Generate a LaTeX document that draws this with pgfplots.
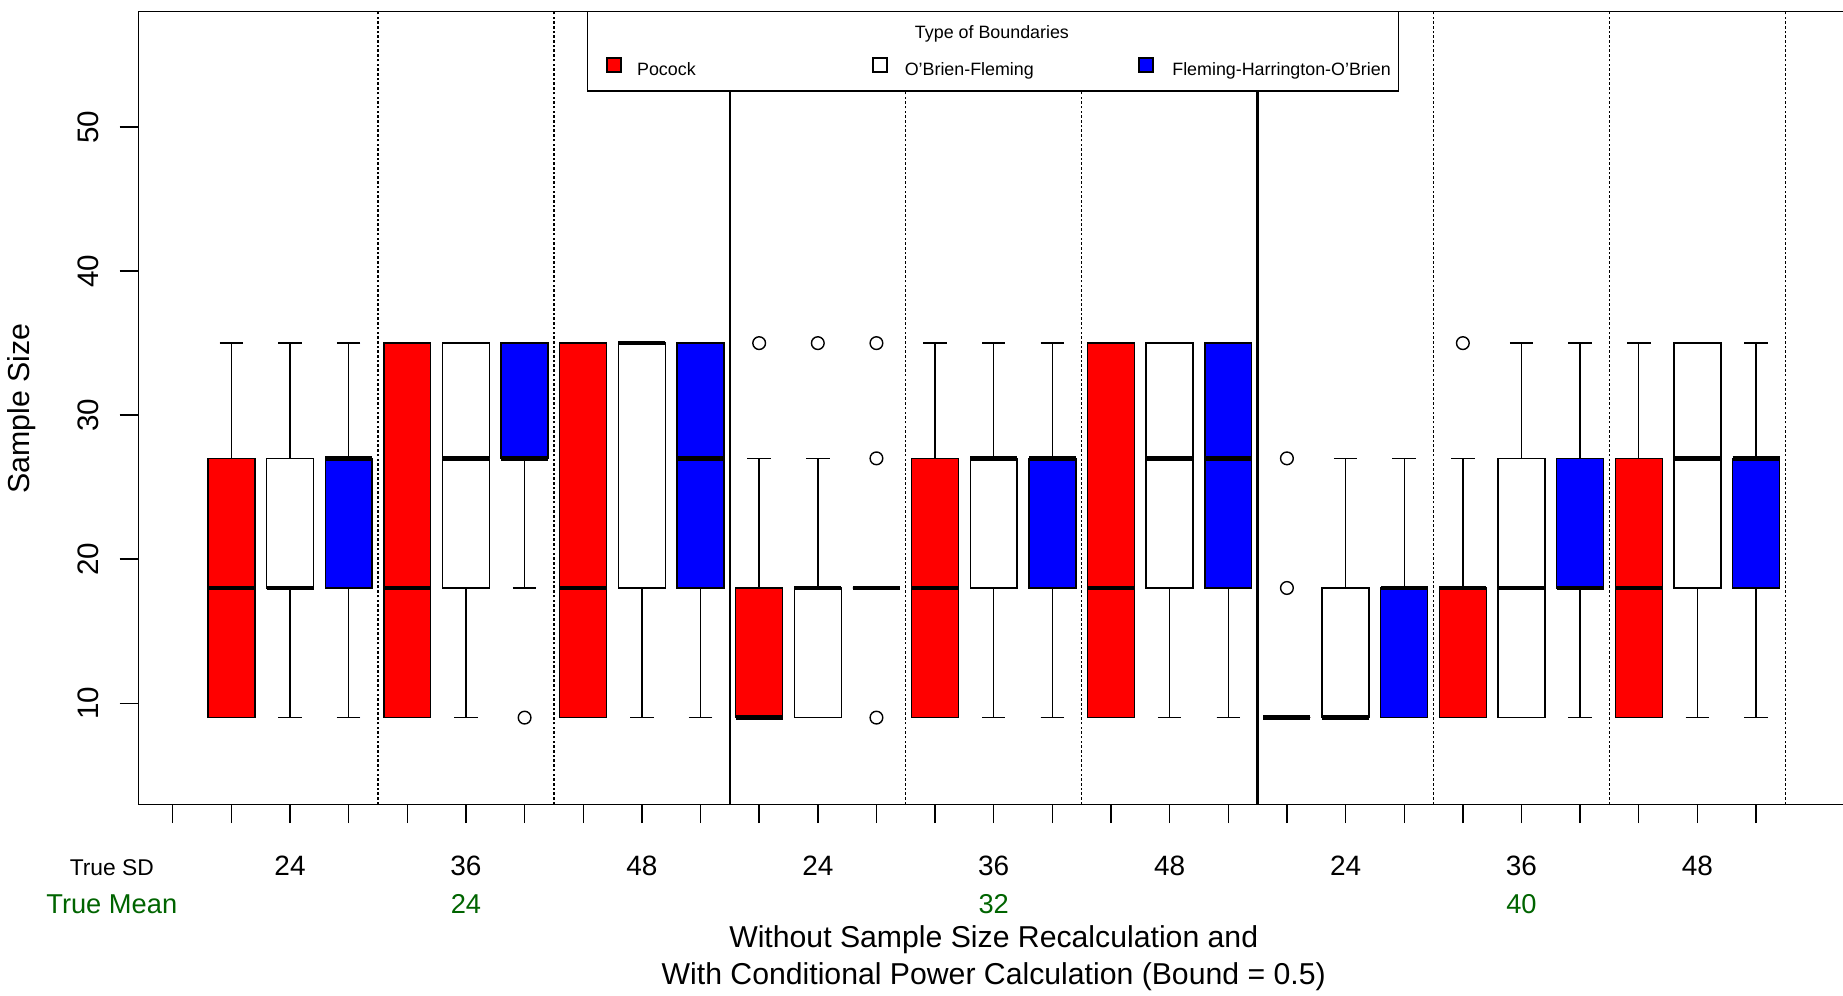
\documentclass[border=0pt]{standalone}
\usepackage{pgfplots}
\pgfplotsset{compat=1.18}
\usepgfplotslibrary{statistics}
\usetikzlibrary{calc}
\usepackage{fontspec}
\setmainfont{Liberation Sans}
\definecolor{rgreen}{RGB}{0,100,0}
\newcommand{\fs}[1]{\fontsize{#1}{#1}\selectfont}
\pgfplotsset{
  rbox/.style={draw=black, line width=0.6pt, mark=o, mark size=2.7pt,
    mark options={solid, line width=0.6pt, draw=black, fill=none},
    boxplot/draw direction=y,
    boxplot/box extend=0.8, boxplot/whisker extend=0.4,
    boxplot/every median/.style={line width=2pt}},
  dsep/.style={black, line width=0.5pt, dash pattern=on 1.1pt off 0.9pt, mark=none},
  ssep/.style={black, line width=1.1pt, mark=none},
}
\begin{document}
\begin{tikzpicture}
\useasboundingbox (0,0) rectangle (784pt,423.5pt);
\begin{axis}[
  at={(58.85pt,81.35pt)}, anchor=south west,
  scale only axis, width=725.15pt, height=337.35pt,
  xmin=-0.587, xmax=28.483, ymin=2.98, ymax=58.04,
  axis x line=bottom, axis y line=left,
  axis line style={-, line width=0.6pt},
  xtick={0,...,27}, ytick={10,20,30,40,50},
  xticklabels={}, yticklabels={},
  tick align=outside, major tick length=8pt,
  tick style={black, line width=0.6pt},
  clip=false,
]
% group separators
\addplot[dsep] coordinates {(3.5,2.98) (3.5,58.04)};
\addplot[dsep] coordinates {(6.5,2.98) (6.5,58.04)};
\addplot[ssep] coordinates {(9.5,2.98) (9.5,58.04)};
\addplot[dsep] coordinates {(12.5,2.98) (12.5,58.04)};
\addplot[dsep] coordinates {(15.5,2.98) (15.5,58.04)};
\addplot[ssep] coordinates {(18.5,2.98) (18.5,58.04)};
\addplot[dsep] coordinates {(21.5,2.98) (21.5,58.04)};
\addplot[dsep] coordinates {(24.5,2.98) (24.5,58.04)};
\addplot[dsep] coordinates {(27.5,2.98) (27.5,58.04)};

% True mean 24
\addplot[rbox, fill=red, boxplot prepared={draw position=1, lower whisker=9, lower quartile=9, median=18, upper quartile=27, upper whisker=35}] coordinates {};
\addplot[rbox, fill=white, boxplot prepared={draw position=2, lower whisker=9, lower quartile=18, median=18, upper quartile=27, upper whisker=35}] coordinates {};
\addplot[rbox, fill=blue, boxplot prepared={draw position=3, lower whisker=9, lower quartile=18, median=27, upper quartile=27, upper whisker=35}] coordinates {};
\addplot[rbox, fill=red, boxplot prepared={draw position=4, lower whisker=9, lower quartile=9, median=18, upper quartile=35, upper whisker=35}] coordinates {};
\addplot[rbox, fill=white, boxplot prepared={draw position=5, lower whisker=9, lower quartile=18, median=27, upper quartile=35, upper whisker=35}] coordinates {};
\addplot[rbox, fill=blue, boxplot prepared={draw position=6, lower whisker=18, lower quartile=27, median=27, upper quartile=35, upper whisker=35}] coordinates {(0,9)};
\addplot[rbox, fill=red, boxplot prepared={draw position=7, lower whisker=9, lower quartile=9, median=18, upper quartile=35, upper whisker=35}] coordinates {};
\addplot[rbox, fill=white, boxplot prepared={draw position=8, lower whisker=9, lower quartile=18, median=35, upper quartile=35, upper whisker=35}] coordinates {};
\addplot[rbox, fill=blue, boxplot prepared={draw position=9, lower whisker=9, lower quartile=18, median=27, upper quartile=35, upper whisker=35}] coordinates {};
% True mean 32
\addplot[rbox, fill=red, boxplot prepared={draw position=10, lower whisker=9, lower quartile=9, median=9, upper quartile=18, upper whisker=27}] coordinates {(0,35)};
\addplot[rbox, fill=white, boxplot prepared={draw position=11, lower whisker=9, lower quartile=9, median=18, upper quartile=18, upper whisker=27}] coordinates {(0,35)};
\addplot[rbox, fill=blue, boxplot prepared={draw position=12, lower whisker=18, lower quartile=18, median=18, upper quartile=18, upper whisker=18}] coordinates {(0,9) (0,27) (0,35)};
\addplot[rbox, fill=red, boxplot prepared={draw position=13, lower whisker=9, lower quartile=9, median=18, upper quartile=27, upper whisker=35}] coordinates {};
\addplot[rbox, fill=white, boxplot prepared={draw position=14, lower whisker=9, lower quartile=18, median=27, upper quartile=27, upper whisker=35}] coordinates {};
\addplot[rbox, fill=blue, boxplot prepared={draw position=15, lower whisker=9, lower quartile=18, median=27, upper quartile=27, upper whisker=35}] coordinates {};
\addplot[rbox, fill=red, boxplot prepared={draw position=16, lower whisker=9, lower quartile=9, median=18, upper quartile=35, upper whisker=35}] coordinates {};
\addplot[rbox, fill=white, boxplot prepared={draw position=17, lower whisker=9, lower quartile=18, median=27, upper quartile=35, upper whisker=35}] coordinates {};
\addplot[rbox, fill=blue, boxplot prepared={draw position=18, lower whisker=9, lower quartile=18, median=27, upper quartile=35, upper whisker=35}] coordinates {};
% True mean 40
\addplot[rbox, fill=red, boxplot prepared={draw position=19, lower whisker=9, lower quartile=9, median=9, upper quartile=9, upper whisker=9}] coordinates {(0,18) (0,27)};
\addplot[rbox, fill=white, boxplot prepared={draw position=20, lower whisker=9, lower quartile=9, median=9, upper quartile=18, upper whisker=27}] coordinates {};
\addplot[rbox, fill=blue, boxplot prepared={draw position=21, lower whisker=9, lower quartile=9, median=18, upper quartile=18, upper whisker=27}] coordinates {};
\addplot[rbox, fill=red, boxplot prepared={draw position=22, lower whisker=9, lower quartile=9, median=18, upper quartile=18, upper whisker=27}] coordinates {(0,35)};
\addplot[rbox, fill=white, boxplot prepared={draw position=23, lower whisker=9, lower quartile=9, median=18, upper quartile=27, upper whisker=35}] coordinates {};
\addplot[rbox, fill=blue, boxplot prepared={draw position=24, lower whisker=9, lower quartile=18, median=18, upper quartile=27, upper whisker=35}] coordinates {};
\addplot[rbox, fill=red, boxplot prepared={draw position=25, lower whisker=9, lower quartile=9, median=18, upper quartile=27, upper whisker=35}] coordinates {};
\addplot[rbox, fill=white, boxplot prepared={draw position=26, lower whisker=9, lower quartile=18, median=27, upper quartile=35, upper whisker=35}] coordinates {};
\addplot[rbox, fill=blue, boxplot prepared={draw position=27, lower whisker=9, lower quartile=18, median=27, upper quartile=27, upper whisker=35}] coordinates {};

% top frame line
\draw[line width=0.6pt] (rel axis cs:0,1) -- (rel axis cs:1,1);

% y tick labels
\node[rotate=90, anchor=base, font=\fs{12.6}] at ($(axis cs:-0.587,10)+(-16.75pt,0pt)$) {10};
\node[rotate=90, anchor=base, font=\fs{12.6}] at ($(axis cs:-0.587,20)+(-16.75pt,0pt)$) {20};
\node[rotate=90, anchor=base, font=\fs{12.6}] at ($(axis cs:-0.587,30)+(-16.75pt,0pt)$) {30};
\node[rotate=90, anchor=base, font=\fs{12.6}] at ($(axis cs:-0.587,40)+(-16.75pt,0pt)$) {40};
\node[rotate=90, anchor=base, font=\fs{12.6}] at ($(axis cs:-0.587,50)+(-16.75pt,0pt)$) {50};
% y label
\node[rotate=90, anchor=base, font=\fs{12.9}] at ($(axis cs:-0.587,30.45)+(-46.35pt,0pt)$) {Sample Size};

% x labels
\node[anchor=base, font=\fs{9.7}] at ($(axis cs:-1.04,2.98)+(0pt,-30.1pt)$) {True SD};
\node[anchor=base, font=\fs{11.6}, text=rgreen] at ($(axis cs:-1.04,2.98)+(0pt,-46.35pt)$) {True Mean};
\node[anchor=base, font=\fs{11.9}] at ($(axis cs:2,2.98)+(0pt,-30.1pt)$) {24};
\node[anchor=base, font=\fs{11.9}] at ($(axis cs:5,2.98)+(0pt,-30.1pt)$) {36};
\node[anchor=base, font=\fs{11.9}] at ($(axis cs:8,2.98)+(0pt,-30.1pt)$) {48};
\node[anchor=base, font=\fs{11.9}] at ($(axis cs:11,2.98)+(0pt,-30.1pt)$) {24};
\node[anchor=base, font=\fs{11.9}] at ($(axis cs:14,2.98)+(0pt,-30.1pt)$) {36};
\node[anchor=base, font=\fs{11.9}] at ($(axis cs:17,2.98)+(0pt,-30.1pt)$) {48};
\node[anchor=base, font=\fs{11.9}] at ($(axis cs:20,2.98)+(0pt,-30.1pt)$) {24};
\node[anchor=base, font=\fs{11.9}] at ($(axis cs:23,2.98)+(0pt,-30.1pt)$) {36};
\node[anchor=base, font=\fs{11.9}] at ($(axis cs:26,2.98)+(0pt,-30.1pt)$) {48};
\node[anchor=base, font=\fs{11.6}, text=rgreen] at ($(axis cs:5,2.98)+(0pt,-46.35pt)$) {24};
\node[anchor=base, font=\fs{11.6}, text=rgreen] at ($(axis cs:14,2.98)+(0pt,-46.35pt)$) {32};
\node[anchor=base, font=\fs{11.6}, text=rgreen] at ($(axis cs:23,2.98)+(0pt,-46.35pt)$) {40};
\node[anchor=base, font=\fs{12.85}] at ($(axis cs:14,2.98)+(0pt,-60.85pt)$) {Without Sample Size Recalculation and};
\node[anchor=base, font=\fs{12.85}] at ($(axis cs:14,2.98)+(0pt,-76.85pt)$) {With Conditional Power Calculation (Bound = 0.5)};

% legend
\draw[line width=0.6pt, fill=white] (axis cs:7.076,52.50) rectangle (axis cs:20.906,58.04);
\node[anchor=base, font=\fs{7.6}] at (axis cs:13.97,56.16) {Type of Boundaries};
\draw[line width=0.6pt, fill=red] ($(axis cs:7.527,54.30)+(-3pt,-3pt)$) rectangle ++(6pt,6pt);
\draw[line width=0.6pt, fill=white] ($(axis cs:12.058,54.30)+(-3pt,-3pt)$) rectangle ++(6pt,6pt);
\draw[line width=0.6pt, fill=blue] ($(axis cs:16.597,54.30)+(-3pt,-3pt)$) rectangle ++(6pt,6pt);
\node[anchor=base west, inner sep=0pt, font=\fs{7.6}] at (axis cs:7.911,53.61) {Pocock};
\node[anchor=base west, inner sep=0pt, font=\fs{7.6}] at (axis cs:12.475,53.61) {O'Brien-Fleming};
\node[anchor=base west, inner sep=0pt, font=\fs{7.6}] at (axis cs:17.038,53.61) {Fleming-Harrington-O'Brien};
\end{axis}
\end{tikzpicture}
\end{document}
